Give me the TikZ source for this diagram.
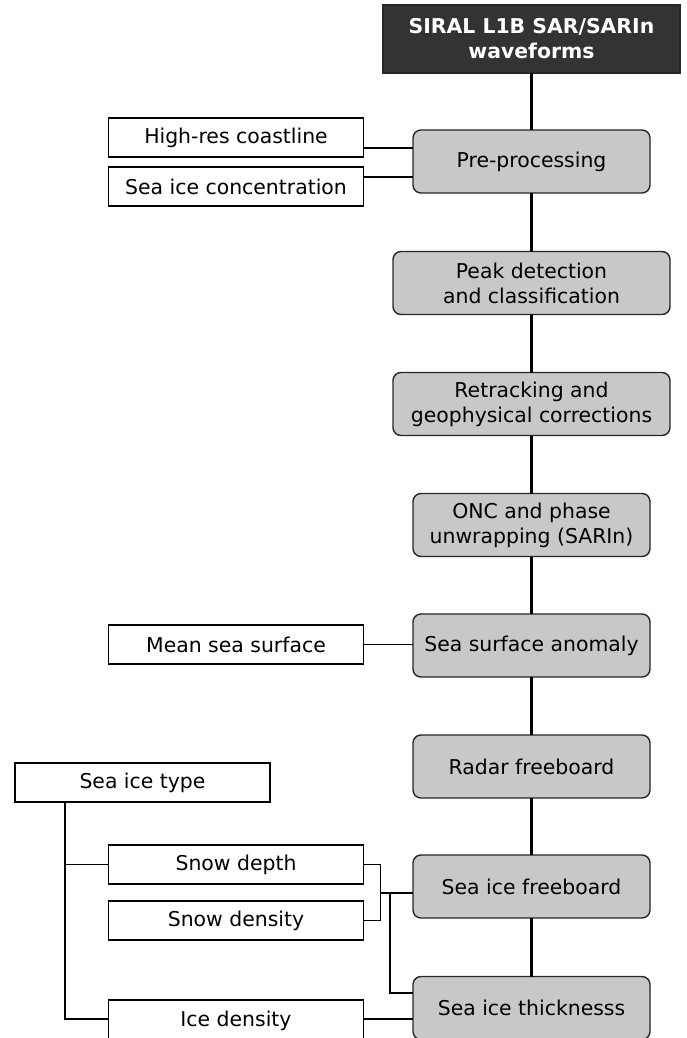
\documentclass[tikz,border=0pt]{standalone}
\usepackage{fontspec}
\setmainfont{DejaVu Sans}
\usetikzlibrary{calc}
\definecolor{boxgray}{HTML}{C8C8C8}
\definecolor{darkbox}{HTML}{333333}
\begin{document}
\begin{tikzpicture}[x=1pt,y=-1pt,
  every node/.style={inner sep=0pt, outer sep=0pt, font=\fontsize{20.4}{25}\selectfont, align=center},
  proc/.style={draw=black!85, line width=1.4pt, fill=boxgray, rounded corners=8pt, minimum width=237pt, minimum height=63pt},
  wide/.style={proc, minimum width=277pt},
  inbox/.style={draw=black, line width=1.3pt, fill=white, minimum width=255pt, minimum height=39pt},
  topbox/.style={draw=black!85, line width=1.2pt, fill=darkbox, text=white, font=\fontsize{20.4}{25}\selectfont\bfseries, minimum width=297pt, minimum height=68pt},
  spine/.style={line width=3pt},
  link/.style={line width=1.2pt}]
\useasboundingbox (0,0) rectangle (686,1038);
\clip (0,0) rectangle (686,1038);
% main chain
\node[topbox] (top) at (531.5,39) {SIRAL L1B SAR/SARIn\\waveforms};
\node[proc] (pre) at (531.5,161.5) {Pre-processing};
\node[wide] (peak) at (531.5,283) {Peak detection\\and classification};
\node[wide] (retr) at (531.5,404) {Retracking and\\geophysical corrections};
\node[proc] (onc) at (531.5,525) {ONC and phase\\unwrapping (SARIn)};
\node[proc] (ssa) at (531.5,645.5) {Sea surface anomaly};
\node[proc] (rfb) at (531.5,766.5) {Radar freeboard};
\node[proc] (sifb) at (531.5,886.5) {Sea ice freeboard};
\node[proc] (sit) at (531.5,1008) {Sea ice thicknesss};
% inputs
\node[inbox] (hrc) at (236,137.5) {High-res coastline};
\node[inbox] (sic) at (236,186.5) {Sea ice concentration};
\node[inbox] (mss) at (236,644.5) {Mean sea surface};
\node[inbox] (type) at (142.5,782.5) {Sea ice type};
\node[inbox] (sd) at (236,864.5) {Snow depth};
\node[inbox] (sden) at (236,920.5) {Snow density};
\node[inbox, minimum height=42pt] (idn) at (236,1021) {Ice density};
% spine
\draw[spine] (top.south) -- (pre.north);
\draw[spine] (pre.south) -- (peak.north);
\draw[spine] (peak.south) -- (retr.north);
\draw[spine] (retr.south) -- (onc.north);
\draw[spine] (onc.south) -- (ssa.north);
\draw[spine] (ssa.south) -- (rfb.north);
\draw[spine] (rfb.south) -- (sifb.north);
\draw[spine] (sifb.south) -- (sit.north);
% input links
\coordinate (j1) at ([yshift=13.5pt]pre.west);
\coordinate (j2) at ([yshift=-15.5pt]pre.west);
\draw[link] (j1 -| hrc.east) -- (j1);
\draw[link] (j2 -| sic.east) -- (j2);
\draw[link] (mss.east) -- (mss.east -| ssa.west);
\coordinate (t0) at ([xshift=50pt]type.south west);
\coordinate (i0) at ([yshift=2pt]idn.west);
\draw[link] (t0) |- (i0);
\draw[link] (t0 |- sd.west) -- (sd.west);
\coordinate (b1) at ([xshift=17pt]sd.east);
\coordinate (b2) at ([xshift=26.5pt]sd.east);
\coordinate (f1) at ([yshift=-6.5pt]sifb.west);
\coordinate (t1) at ([yshift=15pt]sit.west);
\draw[link] (sd.east) -- (b1) -- (b1 |- sden.east) -- (sden.east);
\draw[link] (f1 -| b1) -- (f1);
\draw[link] (f1 -| b2) |- (t1);
\draw[link] (i0 -| idn.east) -- (i0 -| sit.west);
\end{tikzpicture}
\end{document}
